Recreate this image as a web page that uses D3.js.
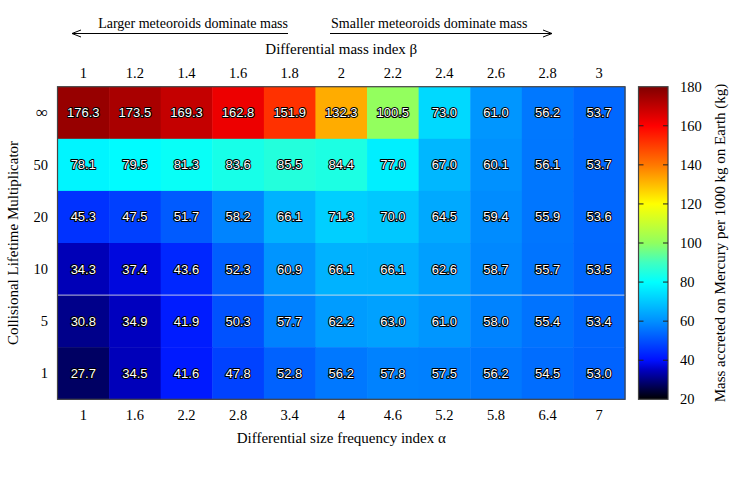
<!DOCTYPE html>
<html><head><meta charset="utf-8">
<script src="https://cdn.jsdelivr.net/npm/d3@7"></script>
<style>
body{margin:0;background:#fff;}
svg{display:block;}
.serif{font-family:"Liberation Serif","Times New Roman",serif;fill:#000;}
.cell-label{font-family:"Liberation Sans",Arial,sans-serif;font-size:13px;fill:#fff;stroke:#000;stroke-width:2px;paint-order:stroke;stroke-linejoin:round;}
</style></head>
<body>
<svg id="chart" width="748" height="490"></svg>
<script>
// ---- data ----
const betaLabels = ["1","1.2","1.4","1.6","1.8","2","2.2","2.4","2.6","2.8","3"];
const alphaLabels = ["1","1.6","2.2","2.8","3.4","4","4.6","5.2","5.8","6.4","7"];
const multipliers = ["∞","50","20","10","5","1"];
const rowInf = [176.3,173.5,169.3,162.8,151.9,132.3,100.5,73.0,61.0,56.2,53.7];
const row50  = [78.1,79.5,81.3,83.6,85.5,84.4,77.0,67.0,60.1,56.1,53.7];
const row20  = [45.3,47.5,51.7,58.2,66.1,71.3,70.0,64.5,59.4,55.9,53.6];
const row10  = [34.3,37.4,43.6,52.3,60.9,66.1,66.1,62.6,58.7,55.7,53.5];
const row5   = [30.8,34.9,41.9,50.3,57.7,62.2,63.0,61.0,58.0,55.4,53.4];
const row1   = [27.7,34.5,41.6,47.8,52.8,56.2,57.8,57.5,56.2,54.5,53.0];
const rows = [rowInf,row50,row20,row10,row5,row1];
const cbTicks = [20,40,60,80,100,120,140,160,180];

// palette stops
const palVals = [20,35,40,60,70,80,90,100,120,140,160,180];
const palCols = ["#000000","#0000c0","#0010ff","#0090ff","#00c8ff","#00ffff","#40ffc0","#90ff60","#ffff00","#ff7800","#ff0000","#800000"];

const svg = d3.select("#chart");
const L = 57.5, R = 625, T = 86.7, B = 399.3;
const x = d3.scaleBand().domain(d3.range(betaLabels.length)).range([L,R]).paddingInner(0).paddingOuter(0);
const y = d3.scaleBand().domain(d3.range(multipliers.length)).range([T,B]);
const color = d3.scaleLinear().domain(palVals).range(palCols).interpolate(d3.interpolateRgb).clamp(true);

const cells = [];
rows.forEach((r,i)=>r.forEach((v,j)=>cells.push({i,j,v})));

svg.append("g").selectAll("rect").data(cells).join("rect")
  .attr("x",d=>x(d.j)).attr("y",d=>y(d.i))
  .attr("width",x.bandwidth()+0.5).attr("height",y.bandwidth()+0.5)
  .attr("fill",d=>color(d.v));

// faint rendering seam line
svg.append("line").attr("x1",L).attr("x2",R).attr("y1",y(4)).attr("y2",y(4))
  .attr("stroke","#e8e8e8").attr("stroke-width",0.8);

svg.append("g").selectAll("text").data(cells).join("text")
  .attr("class","cell-label")
  .attr("x",d=>x(d.j)+x.bandwidth()/2).attr("y",d=>y(d.i)+y.bandwidth()/2+4.5)
  .attr("text-anchor","middle").text(d=>d.v.toFixed(1));

svg.append("rect").attr("x",L).attr("y",T).attr("width",R-L).attr("height",B-T)
  .attr("fill","none").attr("stroke","#444").attr("stroke-width",1.2);

// top axis labels (beta)
svg.append("g").selectAll("text").data(betaLabels).join("text").attr("class","serif")
  .attr("font-size",14.5).attr("text-anchor","middle")
  .attr("x",(d,i)=>x(i)+x.bandwidth()/2).attr("y",78).text(d=>d);
// bottom axis labels (alpha)
svg.append("g").selectAll("text").data(alphaLabels).join("text").attr("class","serif")
  .attr("font-size",14.5).attr("text-anchor","middle")
  .attr("x",(d,i)=>x(i)+x.bandwidth()/2).attr("y",420).text(d=>d);
// left labels
svg.append("g").selectAll("text").data(multipliers).join("text").attr("class","serif")
  .attr("font-size",(d,i)=>i===0?17:14.5).attr("text-anchor","end")
  .attr("x",48).attr("y",(d,i)=>y(i)+y.bandwidth()/2+5).text(d=>d);

// titles
svg.append("text").attr("class","serif").attr("font-size",15).attr("text-anchor","middle")
  .attr("x",(L+R)/2).attr("y",54).text("Differential mass index β");
svg.append("text").attr("class","serif").attr("font-size",15).attr("text-anchor","middle")
  .attr("x",(L+R)/2).attr("y",443).text("Differential size frequency index α");
svg.append("text").attr("class","serif").attr("font-size",15).attr("text-anchor","middle")
  .attr("transform",`translate(18,${(T+B)/2}) rotate(-90)`).text("Collisional Lifetime Multiplicator");

// arrows
svg.append("text").attr("class","serif").attr("font-size",14).attr("text-anchor","end")
  .attr("x",288).attr("y",28).text("Larger meteoroids dominate mass");
svg.append("text").attr("class","serif").attr("font-size",14).attr("text-anchor","start")
  .attr("x",331).attr("y",28).text("Smaller meteoroids dominate mass");
const ag = svg.append("g").attr("stroke","#000").attr("stroke-width",1).attr("fill","none");
ag.append("line").attr("x1",288).attr("x2",72).attr("y1",33.5).attr("y2",33.5);
ag.append("path").attr("d","M81,30 L72,33.5 L81,37");
ag.append("line").attr("x1",330).attr("x2",552).attr("y1",33.5).attr("y2",33.5);
ag.append("path").attr("d","M543,30 L552,33.5 L543,37");

// colorbar
const cbL = 638.5, cbR = 668, cbScale = d3.scaleLinear().domain([20,180]).range([B,T]);
const defs = svg.append("defs");
const grad = defs.append("linearGradient").attr("id","cbgrad").attr("x1",0).attr("y1",1).attr("x2",0).attr("y2",0);
grad.selectAll("stop").data(palVals).join("stop")
  .attr("offset",d=>(d-20)/160).attr("stop-color",(d,i)=>palCols[i]);
svg.append("rect").attr("x",cbL).attr("y",T).attr("width",cbR-cbL).attr("height",B-T)
  .attr("fill","url(#cbgrad)").attr("stroke","#444").attr("stroke-width",1.2);
const tg = svg.append("g").attr("stroke","#222").attr("stroke-width",1);
cbTicks.slice(1,-1).forEach(t=>{
  tg.append("line").attr("x1",cbL).attr("x2",cbL+5).attr("y1",cbScale(t)).attr("y2",cbScale(t));
  tg.append("line").attr("x1",cbR-5).attr("x2",cbR).attr("y1",cbScale(t)).attr("y2",cbScale(t));
});
svg.append("g").selectAll("text").data(cbTicks).join("text").attr("class","serif")
  .attr("font-size",14.5).attr("text-anchor","start")
  .attr("x",680).attr("y",d=>cbScale(d)+5).text(d=>d);
svg.append("text").attr("class","serif").attr("font-size",15).attr("text-anchor","middle")
  .attr("transform",`translate(725,${(T+B)/2}) rotate(-90)`)
  .text("Mass accreted on Mercury per 1000 kg on Earth (kg)");
</script>
</body></html>
